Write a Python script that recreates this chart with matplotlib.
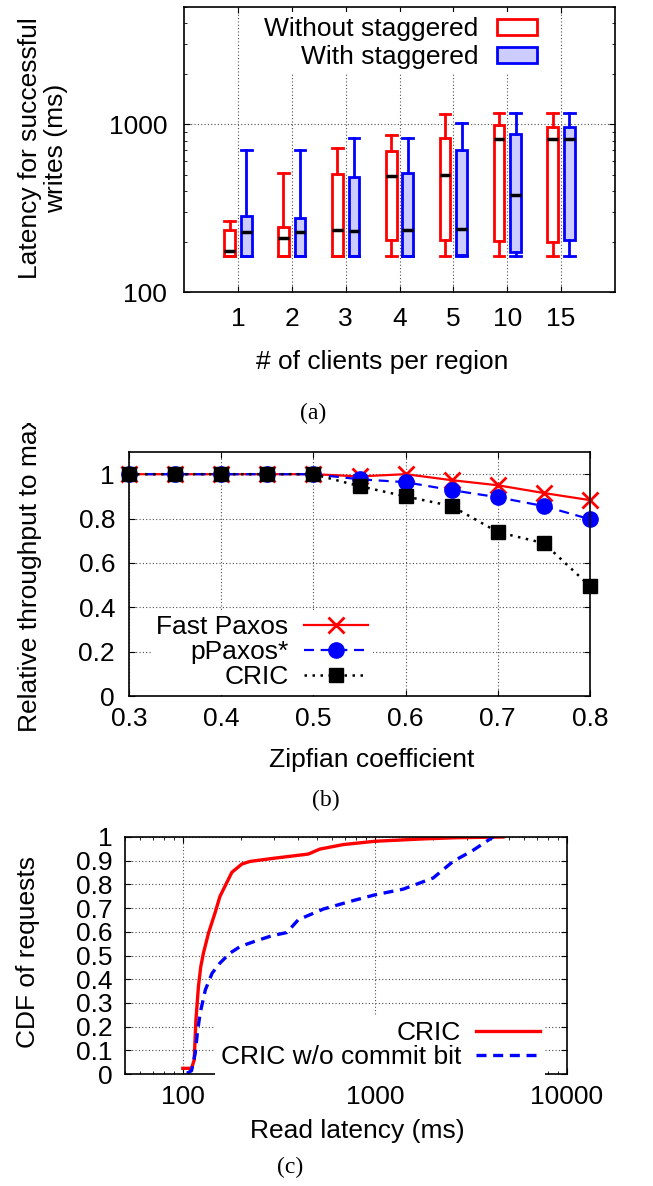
import numpy as np
import matplotlib as mpl
mpl.use("Agg")
from matplotlib import pyplot as plt
from matplotlib.patches import Patch
from matplotlib.transforms import Bbox, TransformedBbox
from matplotlib.ticker import LogLocator, NullFormatter

# (a) write latency box plots
clients = ["1", "2", "3", "4", "5", "10", "15"]
nostag_lo = [165, 165, 165, 165, 165, 165, 165]
nostag_q1 = [165, 165, 165, 204, 204, 201, 198]
nostag_med = [175, 210, 234, 490, 497, 814, 814]
nostag_q3 = [234, 244, 504, 690, 826, 986, 960]
nostag_hi = [265, 511, 719, 861, 1150, 1160, 1160]

stag_lo = [165, 165, 165, 165, 165, 165, 165]
stag_q1 = [165, 165, 165, 165, 167, 174, 204]
stag_med = [227, 227, 230, 234, 237, 378, 814]
stag_q3 = [283, 276, 484, 511, 700, 872, 960]
stag_hi = [700, 700, 826, 826, 1014, 1160, 1160]

# (b) throughput vs zipfian coefficient
zipf = [0.3, 0.35, 0.4, 0.45, 0.5, 0.55, 0.6, 0.65, 0.7, 0.75, 0.8]
fast_paxos = [1, 1, 1, 1, 1, 0.99, 1.0, 0.973, 0.95, 0.915, 0.883]
ppaxos = [1, 1, 1, 1, 1, 0.977, 0.964, 0.928, 0.896, 0.856, 0.797]
cric = [1, 1, 1, 1, 1, 0.946, 0.90, 0.856, 0.739, 0.689, 0.495]

# (c) read latency CDF
cric_lat = [100, 111, 114.6, 117, 120.6, 124, 128, 136, 147, 156, 169, 180, 203,
            224, 296, 450, 517, 684, 1000, 1782, 2660, 4646]
cric_cdf = [0.024, 0.024, 0.059, 0.228, 0.37, 0.453, 0.51, 0.594, 0.679, 0.749,
            0.806, 0.851, 0.886, 0.897, 0.91, 0.928, 0.949, 0.968, 0.982, 0.992,
            0.997, 1.0]
nobit_lat = [105, 111, 116, 119, 123, 131, 142, 156, 176, 199, 243, 290, 348,
             399, 539, 741, 1000, 1403, 2010, 2553, 3244, 4122]
nobit_cdf = [0.003, 0.014, 0.087, 0.172, 0.256, 0.355, 0.425, 0.468, 0.51, 0.538,
             0.563, 0.583, 0.597, 0.651, 0.696, 0.728, 0.756, 0.78, 0.827, 0.897,
             0.944, 1.0]

W, H = 653, 1186
FS = 19
plt.rcParams["font.family"] = ["Liberation Sans", "DejaVu Sans"]
plt.rcParams["font.size"] = FS
plt.rcParams["axes.linewidth"] = 1.2
plt.rcParams["xtick.direction"] = "in"
plt.rcParams["ytick.direction"] = "in"
plt.rcParams["xtick.top"] = True
plt.rcParams["ytick.right"] = True
plt.rcParams["xtick.major.size"] = 4.5
plt.rcParams["ytick.major.size"] = 4.5
plt.rcParams["xtick.minor.size"] = 2.5
plt.rcParams["ytick.minor.size"] = 2.5

fig = plt.figure(figsize=(W / 100, H / 100), dpi=100)


def rect(l, t, r, b):
    return [l / W, 1 - b / H, (r - l) / W, (b - t) / H]


def fx(x):
    return x / W


def fy(y):
    return 1 - y / H


grid_kw = dict(color="0.3", linestyle=(0, (1, 2)), linewidth=0.8)

# ---------------- (a)
ax = fig.add_axes(rect(184, 7, 615, 292))
pos = np.arange(1, len(clients) + 1)
off, bw = 0.155, 0.2


def stats(lo, q1, med, q3, hi):
    return [dict(whislo=a, q1=b, med=c, q3=d, whishi=e, fliers=[])
            for a, b, c, d, e in zip(lo, q1, med, q3, hi)]


for data, color, face, dx in [
    ((nostag_lo, nostag_q1, nostag_med, nostag_q3, nostag_hi), "red", "white", -off),
    ((stag_lo, stag_q1, stag_med, stag_q3, stag_hi), "blue", "#ccccff", off),
]:
    ax.bxp(stats(*data), positions=pos + dx, widths=bw, capwidths=bw,
           patch_artist=True, showfliers=False, manage_ticks=False,
           boxprops=dict(facecolor=face, edgecolor=color, linewidth=2),
           whiskerprops=dict(color=color, linewidth=2),
           capprops=dict(color=color, linewidth=2),
           medianprops=dict(color="black", linewidth=2.5))

ax.set_yscale("log")
ax.set_ylim(100, 5000)
ax.set_xlim(0, len(clients) + 1)
ax.set_xticks(pos)
ax.set_xticklabels(clients)
ax.set_yticks([100, 1000])
ax.set_yticklabels(["100", "1000"])
ax.yaxis.set_minor_locator(LogLocator(subs=np.arange(2, 10)))
ax.yaxis.set_minor_formatter(NullFormatter())
ax.tick_params(axis="x", pad=10.5)
ax.tick_params(axis="y", which="both", pad=12)
ax.grid(True, which="major", **grid_kw)
ax.set_axisbelow(True)
ax.set_xlabel("# of clients per region", va="center")
ax.xaxis.set_label_coords(fx(382), fy(362), transform=fig.transFigure)
ax.set_ylabel("Latency for successful\nwrites (ms)", va="center", linespacing=1.15)
ax.yaxis.set_label_coords(fx(43), fy(148), transform=fig.transFigure)
handles = [Patch(facecolor="white", edgecolor="red", linewidth=2),
           Patch(facecolor="#ccccff", edgecolor="blue", linewidth=2)]
leg = ax.legend(handles, ["Without staggered", "With staggered"], loc="upper right",
                bbox_to_anchor=(fx(542), fy(12)), bbox_transform=fig.transFigure,
                markerfirst=False, frameon=True, fancybox=False, framealpha=1,
                edgecolor="none", borderpad=0.2, borderaxespad=0,
                handlelength=1.5, handleheight=0.55, handletextpad=0.72,
                labelspacing=0.14)
leg.set_zorder(5)
fig.text(fx(313), fy(413), "(a)", ha="center", va="center",
         family="Liberation Serif", fontsize=17)

# ---------------- (b)
ax = fig.add_axes(rect(129, 452, 590, 696))
ax.plot(zipf, fast_paxos, color="red", linewidth=1.6, marker="x",
        markersize=11, markeredgewidth=2, clip_on=False, label="Fast Paxos")
ax.plot(zipf, ppaxos, color="blue", linewidth=1.6, dashes=(4.5, 3), marker="o",
        markersize=11, clip_on=False, label="pPaxos*")
ax.plot(zipf, cric, color="black", linewidth=1.8, dashes=(1, 2.2), marker="s",
        markersize=9.5, clip_on=False, label="CRIC")
ax.set_xlim(0.3, 0.8)
ax.set_ylim(0, 1.1)
ax.set_xticks([0.3, 0.4, 0.5, 0.6, 0.7, 0.8])
ax.set_xticklabels(["0.3", "0.4", "0.5", "0.6", "0.7", "0.8"])
ax.set_yticks([0, 0.2, 0.4, 0.6, 0.8, 1.0])
ax.set_yticklabels(["0", "0.2", "0.4", "0.6", "0.8", "1"])
ax.tick_params(axis="x", pad=8)
ax.tick_params(axis="y", pad=10)
ax.grid(True, **grid_kw)
ax.set_axisbelow(True)
ax.set_xlabel("Zipfian coefficient", va="center")
ax.xaxis.set_label_coords(fx(372), fy(760), transform=fig.transFigure)
leg = ax.legend(loc="upper right", bbox_to_anchor=(fx(373), fy(610)),
                bbox_transform=fig.transFigure, markerfirst=False, numpoints=1,
                frameon=True, fancybox=False, framealpha=1, edgecolor="none",
                borderpad=0.2, borderaxespad=0, handlelength=2.4,
                handletextpad=0.6, labelspacing=0.04)
ylab = fig.text(fx(30), fy(732), "Relative throughput to max", rotation=90,
                ha="center", va="bottom")
ylab.set_clip_box(TransformedBbox(Bbox.from_extents(0, fy(1186), 1, fy(423)),
                                  fig.transFigure))
ylab.set_clip_on(True)
fig.text(fx(326), fy(800), "(b)", ha="center", va="center",
         family="Liberation Serif", fontsize=17)

# ---------------- (c)
ax = fig.add_axes(rect(125, 837, 567, 1074))
ax.plot(cric_lat, cric_cdf, color="red", linewidth=2.4, label="CRIC")
ax.plot(nobit_lat, nobit_cdf, color="blue", linewidth=2.4, dashes=(3, 2),
        label="CRIC w/o commit bit")
ax.set_xscale("log")
ax.set_xlim(50, 10000)
ax.set_ylim(0, 1)
ax.set_xticks([100, 1000, 10000])
ax.set_xticklabels(["100", "1000", "10000"])
ax.xaxis.set_minor_locator(LogLocator(subs=np.arange(2, 10)))
ax.xaxis.set_minor_formatter(NullFormatter())
ax.set_yticks(np.round(np.arange(0, 1.01, 0.1), 1))
ax.set_yticklabels(["0", "0.1", "0.2", "0.3", "0.4", "0.5", "0.6", "0.7", "0.8",
                    "0.9", "1"])
ax.tick_params(axis="x", which="both", pad=8)
ax.tick_params(axis="y", pad=9)
ax.grid(True, which="major", **grid_kw)
ax.set_axisbelow(True)
ax.set_xlabel("Read latency (ms)", va="center")
ax.xaxis.set_label_coords(fx(357), fy(1131), transform=fig.transFigure)
ax.set_ylabel("CDF of requests", va="center")
ax.yaxis.set_label_coords(fx(28), fy(952), transform=fig.transFigure)
leg = ax.legend(loc="upper right", bbox_to_anchor=(fx(545), fy(1016)),
                bbox_transform=fig.transFigure, markerfirst=False,
                frameon=True, fancybox=False, framealpha=1, edgecolor="none",
                borderpad=0.2, borderaxespad=0, handlelength=2.4,
                handletextpad=0.58, labelspacing=0.0)
fig.text(fx(290), fy(1167), "(c)", ha="center", va="center",
         family="Liberation Serif", fontsize=17)

fig.savefig("out.png", dpi=100)
